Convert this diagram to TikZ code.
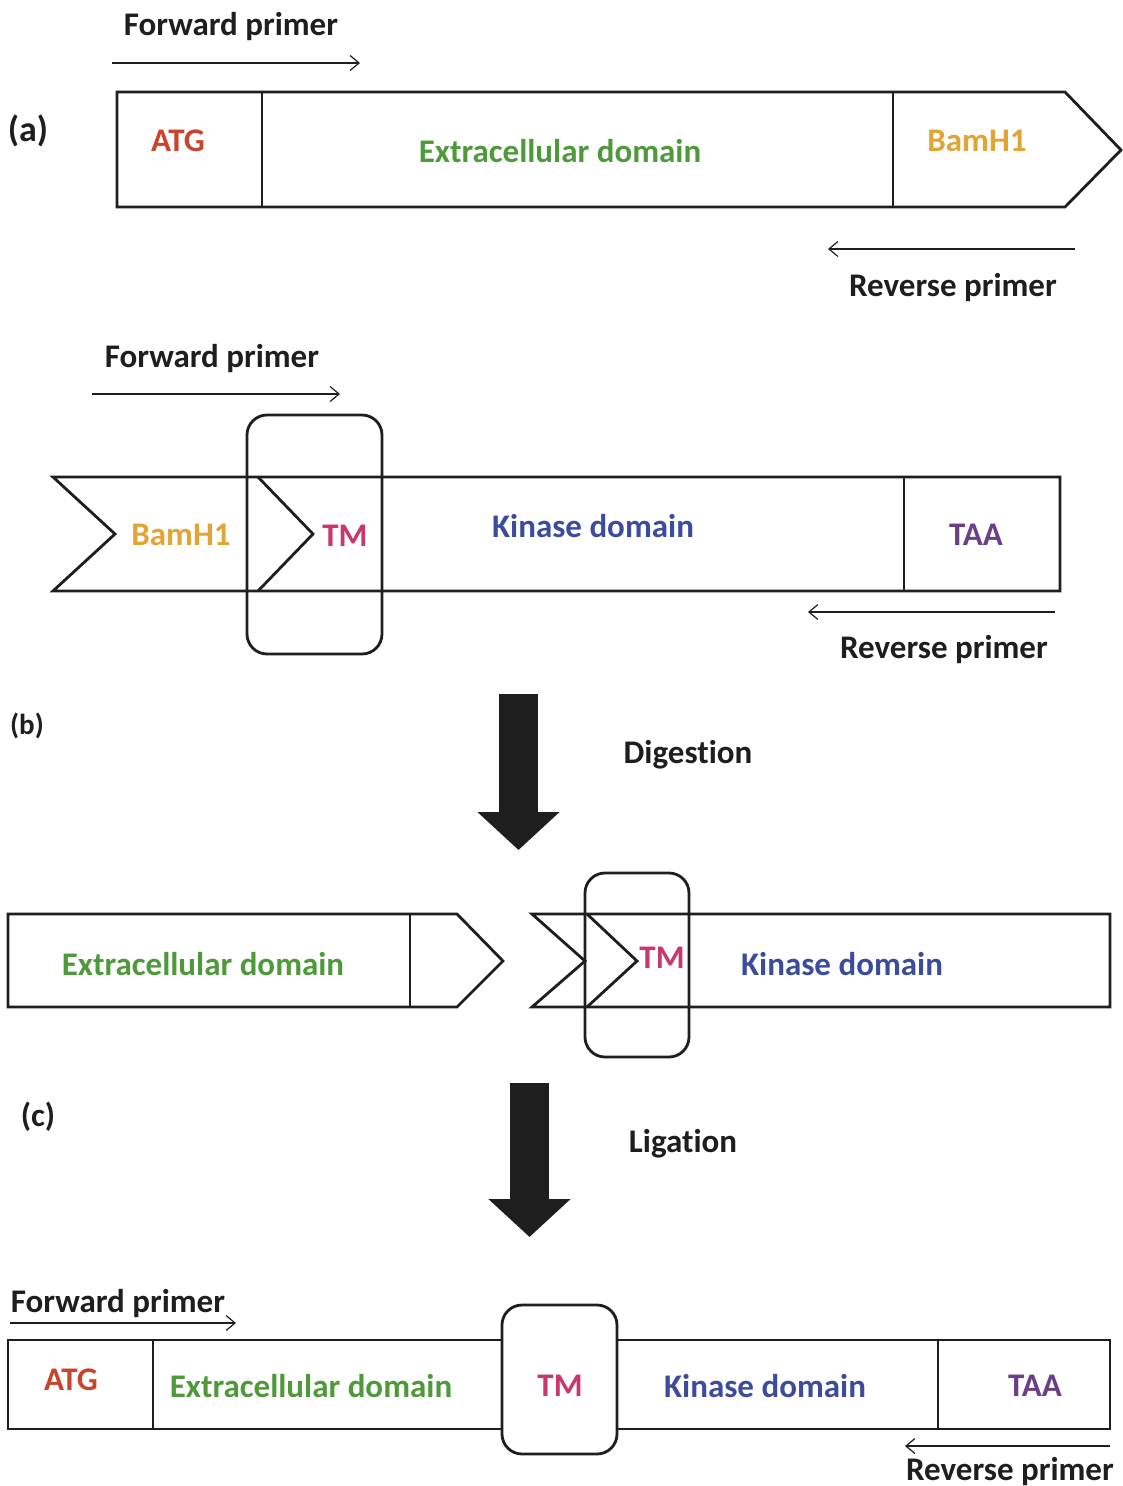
\documentclass[tikz,border=0pt]{standalone}
\usepackage{fontspec}
\setmainfont{Carlito}[Ligatures=NoCommon]
\usetikzlibrary{arrows.meta}
\definecolor{cATG}{HTML}{C8442C}
\definecolor{cEC}{HTML}{4E9A3A}
\definecolor{cBam}{HTML}{E3A436}
\definecolor{cTM}{HTML}{C8386E}
\definecolor{cKin}{HTML}{3B4C9C}
\definecolor{cTAA}{HTML}{6B3F86}
\definecolor{ink}{HTML}{1E1E1E}
\begin{document}
\begin{tikzpicture}[x=1pt,y=-1pt,
  lbl/.style={font=\bfseries\fontsize{33}{38}\selectfont, inner sep=0pt, text=ink},
  dom/.style={font=\bfseries\fontsize{33}{38}\selectfont, inner sep=0pt},
  box/.style={draw=ink, line width=2.8pt, line join=miter},
  primer/.style={draw=ink, line width=1.2pt, -{Straight Barb[length=9pt,width=15pt,line width=1.2pt]}},
  tmbox/.style={draw=ink, line width=2.8pt, rounded corners=20pt},
  bigarrow/.style={draw=ink, line width=39pt, -{Triangle[length=38pt,width=80pt]}}]
\useasboundingbox[fill=white] (0,0) rectangle (1123,1486);

% ---------- panel (a)
\node[lbl] (fa) at (231,27) {Forward primer};
\coordinate (fa1) at (112,63); \coordinate (fa2) at (360,63);
\draw[primer] (fa1) -- (fa2);
\node[lbl, font=\bfseries\fontsize{36}{40}\selectfont] (pa) at (28,131) {(a)};
\draw[box] (117,92) -- (1065,92) -- (1121,150) -- (1065,207) -- (117,207) -- cycle;
\draw[box] (262,92) -- (262,207);
\draw[box] (893,92) -- (893,207);
\node[dom, text=cATG] (a1) at (178,141) {ATG};
\node[dom, text=cEC] (a2) at (560,151) {Extracellular domain};
\node[dom, text=cBam] (a3) at (977,141) {BamH1};
\coordinate (ra1) at (1075,249); \coordinate (ra2) at (828,249);
\draw[primer] (ra1) -- (ra2);
\node[lbl] (ra) at (953,288) {Reverse primer};

% ---------- panel (b) top
\node[lbl] (fb) at (212,359) {Forward primer};
\coordinate (fb1) at (92,394); \coordinate (fb2) at (340,394);
\draw[primer] (fb1) -- (fb2);
\draw[box] (53,477) -- (1060,477) -- (1060,591) -- (53,591) -- (115,534) -- cycle;
\draw[box] (904,477) -- (904,591);
\draw[box] (258,477) -- (313,534) -- (258,591);
\draw[tmbox] (247,415) rectangle (382,654);
\node[dom, text=cBam] (b1) at (181,535) {BamH1};
\node[dom, text=cTM] (b2) at (345,536) {TM};
\node[dom, text=cKin] (b3) at (593,526) {Kinase domain};
\node[dom, text=cTAA] (b4) at (976,535) {TAA};
\coordinate (rb1) at (1055,612); \coordinate (rb2) at (808,612);
\draw[primer] (rb1) -- (rb2);
\node[lbl] (rb) at (944,650) {Reverse primer};
\node[lbl, font=\bfseries\fontsize{29}{34}\selectfont] (pb) at (27,726) {(b)};

% digestion arrow
\coordinate (d1) at (518.5,694); \coordinate (d2) at (518.5,850);
\draw[bigarrow] (d1) -- (d2);
\node[lbl] (dg) at (688,755) {Digestion};

% ---------- digested fragments
\draw[box] (8,914) -- (457,914) -- (503,961) -- (457,1007) -- (8,1007) -- cycle;
\draw[box] (410,914) -- (410,1007);
\draw[box] (532,914) -- (1110,914) -- (1110,1007) -- (532,1007) -- (585,961) -- cycle;
\draw[box] (587,914) -- (637,961) -- (587,1007);
\draw[tmbox] (585,873) rectangle (689,1057);
\node[dom, text=cEC] (c1) at (203,964) {Extracellular domain};
\node[dom, text=cTM] (c2) at (662,958) {TM};
\node[dom, text=cKin] (c3) at (842,964) {Kinase domain};
\node[lbl] (pc) at (38,1117) {(c)};

% ligation arrow
\coordinate (l1) at (529.5,1083); \coordinate (l2) at (529.5,1237);
\draw[bigarrow] (l1) -- (l2);
\node[lbl] (lg) at (683,1144) {Ligation};

% ---------- final construct
\node[lbl] (fc) at (118,1303) {Forward primer};
\coordinate (fc1) at (10,1323); \coordinate (fc2) at (236,1323);
\draw[primer] (fc1) -- (fc2);
\draw[box] (8,1340) rectangle (1110,1429);
\draw[box] (153,1340) -- (153,1429);
\draw[box] (938,1340) -- (938,1429);
\draw[tmbox, fill=white] (502,1305) rectangle (617,1454);
\node[dom, text=cATG] (e1) at (71,1380) {ATG};
\node[dom, text=cEC] (e2) at (311,1386) {Extracellular domain};
\node[dom, text=cTM] (e3) at (560,1386) {TM};
\node[dom, text=cKin] (e4) at (765,1386) {Kinase domain};
\node[dom, text=cTAA] (e5) at (1035,1386) {TAA};
\coordinate (rc1) at (1110,1446); \coordinate (rc2) at (905,1446);
\draw[primer] (rc1) -- (rc2);
\node[lbl] (rc) at (1010,1471) {Reverse primer};
\end{tikzpicture}
\end{document}
